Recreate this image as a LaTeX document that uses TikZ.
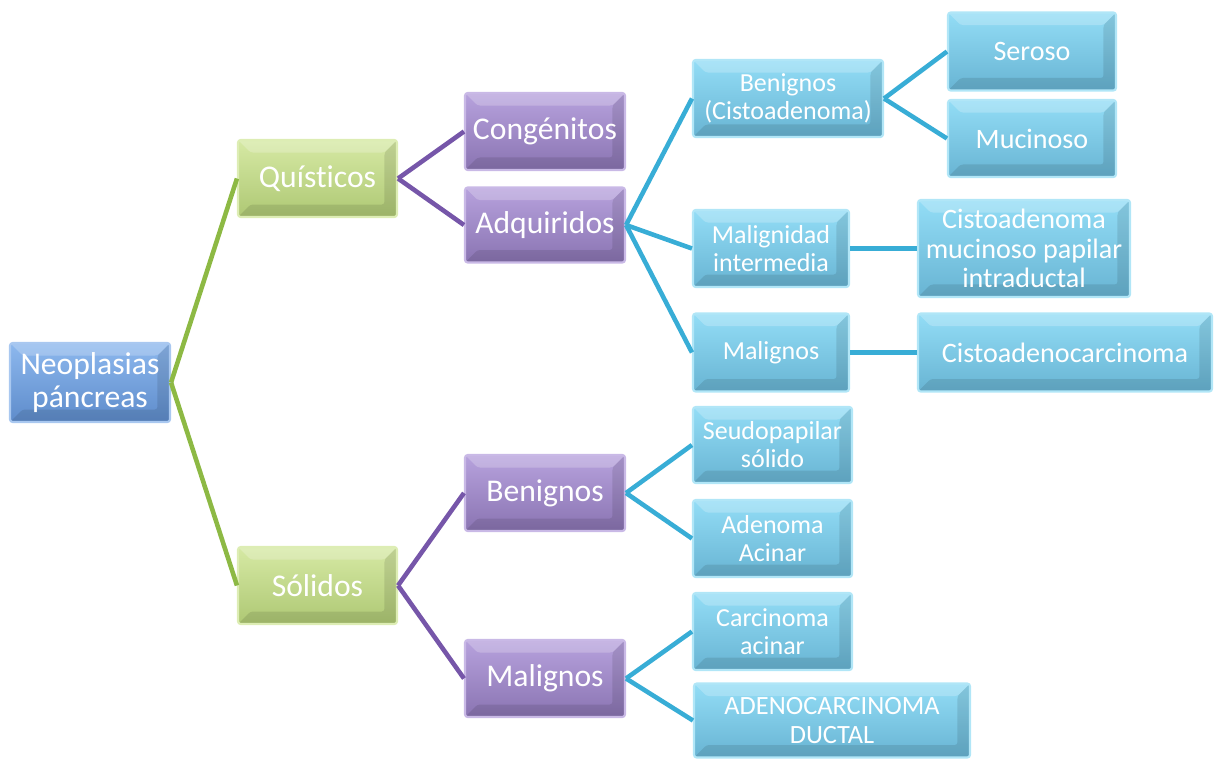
\documentclass[tikz,border=0pt]{standalone}
\usepackage{fontspec}
\setmainfont{Carlito}[Ligatures=NoCommon]
\definecolor{roottop}{HTML}{8DB8EE}
\definecolor{rootbot}{HTML}{5E8CCB}
\definecolor{rootedge}{HTML}{A9C8F0}
\definecolor{greentop}{HTML}{D6E9A4}
\definecolor{greenbot}{HTML}{AEC874}
\definecolor{greenedge}{HTML}{DDEDB4}
\definecolor{purptop}{HTML}{B7A2DD}
\definecolor{purpbot}{HTML}{8A74B2}
\definecolor{purpedge}{HTML}{C9B9E6}
\definecolor{bluetop}{HTML}{93DDF6}
\definecolor{bluebot}{HTML}{68B4D3}
\definecolor{blueedge}{HTML}{B1E6F7}
\definecolor{glink}{HTML}{8DB944}
\definecolor{plink}{HTML}{7656A9}
\definecolor{blink}{HTML}{38ADD6}
\begin{document}
\begin{tikzpicture}[x=0.02cm,y=-0.02cm,
  bx/.style={rectangle, rounded corners=1.5pt, align=center, text=white, inner sep=0pt, line width=1.2pt,
    path picture={
      \fill[white,opacity=0.22] (path picture bounding box.north west) -- (path picture bounding box.north east)
        -- ([xshift=-0.25cm,yshift=-0.25cm]path picture bounding box.north east)
        -- ([xshift=0.25cm,yshift=-0.25cm]path picture bounding box.north west) -- cycle;
      \fill[black,opacity=0.10] (path picture bounding box.south west) -- (path picture bounding box.south east)
        -- (path picture bounding box.north east)
        -- ([xshift=-0.25cm,yshift=-0.25cm]path picture bounding box.north east)
        -- ([xshift=-0.25cm,yshift=0.25cm]path picture bounding box.south east)
        -- ([xshift=0.25cm,yshift=0.25cm]path picture bounding box.south west) -- cycle;
    }},
  rootbox/.style={bx, draw=rootedge, top color=roottop, bottom color=rootbot, font=\fontsize{18}{19}\selectfont},
  greenbox/.style={bx, draw=greenedge, top color=greentop, bottom color=greenbot, font=\fontsize{18}{19}\selectfont},
  purpbox/.style={bx, draw=purpedge, top color=purptop, bottom color=purpbot, font=\fontsize{18}{19}\selectfont},
  bluebox/.style={bx, draw=blueedge, top color=bluetop, bottom color=bluebot, font=\fontsize{14.8}{16}\selectfont},
  bigblue/.style={bluebox, font=\fontsize{16}{16.6}\selectfont},
  gline/.style={draw=glink, line width=2.6pt},
  pline/.style={draw=plink, line width=2.6pt},
  bline/.style={draw=blink, line width=2.6pt}
]
\useasboundingbox (0,0) rectangle (1214,758);

\node[rootbox, minimum width=3.2cm, minimum height=1.58cm] (root) at (90,382.5) {Neoplasias\\páncreas};

\node[greenbox, minimum width=3.18cm, minimum height=1.54cm] (qui) at (317.5,178.5) {Quíst\kern0pt icos};
\node[greenbox, minimum width=3.18cm, minimum height=1.54cm] (sol) at (317.5,585.5) {Sólidos};

\node[purpbox, minimum width=3.2cm, minimum height=1.54cm] (con) at (545,131.5) {Congénit\kern0pt os};
\node[purpbox, minimum width=3.2cm, minimum height=1.5cm] (adq) at (545,225) {Adquiridos};
\node[purpbox, minimum width=3.2cm, minimum height=1.52cm] (bens) at (545,493) {Benignos};
\node[purpbox, minimum width=3.2cm, minimum height=1.54cm] (mals) at (545,678.5) {Malignos};

\node[bluebox, minimum width=3.8cm, minimum height=1.54cm] (benc) at (788,98.5) {Benignos\\(Cistoadenoma)};
\node[bigblue, minimum width=3.36cm, minimum height=1.56cm] (ser) at (1032,51.5) {Seroso};
\node[bigblue, minimum width=3.36cm, minimum height=1.54cm] (muc) at (1032,138.5) {Mucinoso};
\node[bluebox, minimum width=3.12cm, minimum height=1.54cm] (mali) at (771,248.5) {Malignidad\\intermedia};
\node[bigblue, minimum width=4.24cm, minimum height=1.94cm] (cmpi) at (1024,248.5) {Cistoadenoma\\mucinoso papilar\\intraductal};
\node[bluebox, minimum width=3.12cm, minimum height=1.56cm] (malq) at (771,352.5) {Malignos};
\node[bigblue, minimum width=5.88cm, minimum height=1.56cm] (cac) at (1065,352.5) {Cistoadenocarcinoma};

\node[bluebox, minimum width=3.18cm, minimum height=1.52cm] (seu) at (772.5,445) {Seudopapilar\\sólido};
\node[bluebox, minimum width=3.18cm, minimum height=1.54cm] (ade) at (772.5,538.5) {Adenoma\\Acinar};
\node[bluebox, minimum width=3.18cm, minimum height=1.54cm] (car) at (772.5,631.5) {Carcinoma\\acinar};
\node[bluebox, minimum width=5.52cm, minimum height=1.48cm, font=\fontsize{15}{17}\selectfont] (adc) at (832,720.5) {ADENOCARCINOMA\\DUCTAL};

\draw[gline] (root.east) -- (qui.west);
\draw[gline] (root.east) -- (sol.west);
\draw[pline] (qui.east) -- (con.west);
\draw[pline] (qui.east) -- (adq.west);
\draw[pline] (sol.east) -- (bens.west);
\draw[pline] (sol.east) -- (mals.west);
\draw[bline] (adq.east) -- (benc.west);
\draw[bline] (adq.east) -- (mali.west);
\draw[bline] (adq.east) -- (malq.west);
\draw[bline] (benc.east) -- (ser.west);
\draw[bline] (benc.east) -- (muc.west);
\draw[bline] (mali.east) -- (cmpi.west);
\draw[bline] (malq.east) -- (cac.west);
\draw[bline] (bens.east) -- (seu.west);
\draw[bline] (bens.east) -- (ade.west);
\draw[bline] (mals.east) -- (car.west);
\draw[bline] (mals.east) -- (adc.west);
\end{tikzpicture}
\end{document}
